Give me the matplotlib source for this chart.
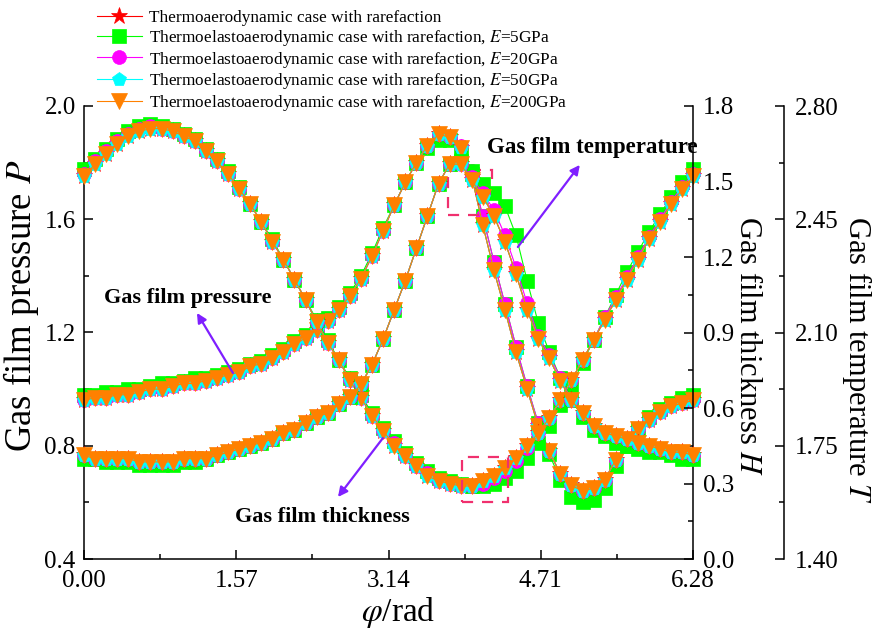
import numpy as np
import matplotlib.pyplot as plt
from matplotlib.patches import Rectangle
from matplotlib.ticker import MultipleLocator, FormatStrFormatter
from matplotlib.lines import Line2D

plt.rcParams['font.family'] = ['Liberation Serif', 'DejaVu Serif']
plt.rcParams['mathtext.fontset'] = 'stix'

# circumferential angle, 56 nodes over one revolution
phi = np.linspace(0, 2 * np.pi, 56)

# gas film pressure P
p_stiff = [0.96, 0.97, 0.97, 0.98, 0.98, 0.99, 1.00, 1.00, 1.01, 1.02,
           1.02, 1.03, 1.04, 1.05, 1.06, 1.08, 1.09, 1.11, 1.13, 1.16,
           1.18, 1.21, 1.24, 1.28, 1.33, 1.39, 1.47, 1.56, 1.65, 1.73,
           1.80, 1.86, 1.90, 1.89, 1.85, 1.75, 1.58, 1.42, 1.28, 1.13,
           1.00, 0.87, 0.78, 0.70, 0.66, 0.64, 0.65, 0.68, 0.75, 0.81,
           0.86, 0.89, 0.92, 0.94, 0.95, 0.96]
p_e20 = [0.96, 0.97, 0.97, 0.98, 0.98, 0.99, 1.00, 1.00, 1.01, 1.02,
         1.02, 1.03, 1.04, 1.05, 1.06, 1.08, 1.09, 1.11, 1.13, 1.16,
         1.18, 1.21, 1.24, 1.28, 1.33, 1.39, 1.47, 1.56, 1.65, 1.73,
         1.80, 1.86, 1.90, 1.89, 1.86, 1.77, 1.61, 1.45, 1.30, 1.15,
         1.01, 0.88, 0.78, 0.70, 0.66, 0.64, 0.65, 0.68, 0.75, 0.81,
         0.86, 0.89, 0.92, 0.94, 0.95, 0.96]
p_e5 = [0.98, 0.98, 0.99, 0.99, 1.00, 1.00, 1.01, 1.02, 1.02, 1.03,
        1.04, 1.04, 1.05, 1.06, 1.07, 1.09, 1.10, 1.12, 1.14, 1.17,
        1.19, 1.22, 1.25, 1.29, 1.34, 1.40, 1.48, 1.57, 1.65, 1.73,
        1.80, 1.85, 1.88, 1.88, 1.84, 1.76, 1.61, 1.45, 1.30, 1.15,
        1.01, 0.88, 0.77, 0.68, 0.62, 0.60, 0.61, 0.65, 0.73, 0.80,
        0.86, 0.90, 0.93, 0.95, 0.97, 0.98]

# gas film thickness H
h_stiff = [1.52, 1.57, 1.61, 1.65, 1.68, 1.70, 1.71, 1.71, 1.70, 1.68,
           1.66, 1.62, 1.58, 1.53, 1.47, 1.41, 1.34, 1.26, 1.19, 1.11,
           1.03, 0.94, 0.86, 0.79, 0.71, 0.64, 0.57, 0.51, 0.45, 0.41,
           0.37, 0.33, 0.31, 0.30, 0.29, 0.29, 0.31, 0.33, 0.36, 0.40,
           0.45, 0.50, 0.56, 0.63, 0.71, 0.79, 0.87, 0.95, 1.03, 1.11,
           1.19, 1.27, 1.34, 1.41, 1.47, 1.52]
h_e20 = [1.53, 1.58, 1.62, 1.66, 1.69, 1.71, 1.72, 1.71, 1.70, 1.68,
         1.66, 1.62, 1.58, 1.53, 1.47, 1.41, 1.34, 1.26, 1.19, 1.11,
         1.03, 0.94, 0.86, 0.79, 0.71, 0.64, 0.57, 0.51, 0.46, 0.41,
         0.37, 0.34, 0.31, 0.30, 0.29, 0.29, 0.30, 0.32, 0.35, 0.39,
         0.44, 0.50, 0.56, 0.63, 0.71, 0.79, 0.87, 0.96, 1.04, 1.12,
         1.20, 1.28, 1.35, 1.42, 1.48, 1.53]
h_e5 = [1.55, 1.59, 1.63, 1.67, 1.70, 1.72, 1.73, 1.72, 1.71, 1.69,
        1.67, 1.63, 1.59, 1.54, 1.48, 1.41, 1.34, 1.27, 1.19, 1.11,
        1.03, 0.95, 0.87, 0.79, 0.72, 0.65, 0.58, 0.52, 0.47, 0.42,
        0.38, 0.35, 0.32, 0.31, 0.30, 0.29, 0.29, 0.30, 0.32, 0.35,
        0.40, 0.46, 0.53, 0.61, 0.69, 0.78, 0.87, 0.96, 1.05, 1.14,
        1.22, 1.30, 1.37, 1.44, 1.50, 1.55]

# gas film temperature T
t_stiff = [1.72, 1.71, 1.71, 1.71, 1.71, 1.70, 1.70, 1.70, 1.70, 1.71,
           1.71, 1.71, 1.72, 1.73, 1.74, 1.75, 1.76, 1.77, 1.79, 1.80,
           1.82, 1.84, 1.85, 1.88, 1.90, 1.94, 2.00, 2.08, 2.17, 2.26,
           2.36, 2.46, 2.56, 2.62, 2.62, 2.57, 2.52, 2.46, 2.38, 2.28,
           2.17, 2.08, 2.02, 1.95, 1.89, 1.85, 1.81, 1.79, 1.78, 1.77,
           1.76, 1.75, 1.74, 1.73, 1.73, 1.72]
t_e20 = [1.72, 1.71, 1.71, 1.71, 1.71, 1.70, 1.70, 1.70, 1.70, 1.71,
         1.71, 1.71, 1.72, 1.73, 1.74, 1.75, 1.76, 1.77, 1.79, 1.80,
         1.82, 1.84, 1.85, 1.88, 1.90, 1.94, 2.00, 2.08, 2.17, 2.26,
         2.36, 2.46, 2.56, 2.62, 2.62, 2.58, 2.53, 2.48, 2.40, 2.30,
         2.19, 2.09, 2.03, 1.96, 1.89, 1.85, 1.81, 1.79, 1.78, 1.77,
         1.76, 1.75, 1.74, 1.73, 1.73, 1.72]
t_e5 = [1.71, 1.71, 1.70, 1.70, 1.70, 1.69, 1.69, 1.69, 1.69, 1.70,
        1.70, 1.71, 1.72, 1.73, 1.74, 1.75, 1.76, 1.77, 1.79, 1.80,
        1.82, 1.84, 1.85, 1.88, 1.90, 1.94, 2.00, 2.08, 2.17, 2.26,
        2.36, 2.46, 2.56, 2.62, 2.63, 2.60, 2.56, 2.53, 2.49, 2.40,
        2.26, 2.13, 2.04, 1.96, 1.89, 1.84, 1.80, 1.78, 1.76, 1.75,
        1.74, 1.73, 1.73, 1.72, 1.71, 1.71]

case_labels = ['Thermoaerodynamic case with rarefaction',
               'Thermoelastoaerodynamic case with rarefaction, $E$=5GPa',
               'Thermoelastoaerodynamic case with rarefaction, $E$=20GPa',
               'Thermoelastoaerodynamic case with rarefaction, $E$=50GPa',
               'Thermoelastoaerodynamic case with rarefaction, $E$=200GPa']
case_p = [p_stiff, p_e5, p_e20, p_stiff, p_stiff]
case_h = [h_stiff, h_e5, h_e20, h_stiff, h_stiff]
case_t = [t_stiff, t_e5, t_e20, t_stiff, t_stiff]

colors = ['#FF0000', '#00FF00', '#FF00FF', '#00FFFF', '#FF8000']
markers = ['*', 's', 'o', 'p', 'v']
msizes = [12.5, 9.5, 10, 10.5, 11]

fig = plt.figure(figsize=(8.74, 6.31), dpi=100)
ax = fig.add_axes([84 / 874, 1 - 559 / 631, 609 / 874, 453 / 631])
ax_h = ax.twinx()
ax_t = ax.twinx()

handles = []
for k in range(5):
    style = dict(color=colors[k], marker=markers[k], ms=msizes[k], lw=0.8,
                 mec=colors[k], mew=0.5, clip_on=False)
    ax.plot(phi, case_p[k], **style)
    ax_h.plot(phi, case_h[k], **style)
    ax_t.plot(phi, case_t[k], **style)
    handles.append(Line2D([], [], **style))

# axes ranges and ticks
ax.set_xlim(0, 6.28)
ax.set_ylim(0.4, 2.0)
ax_h.set_ylim(0, 1.8)
ax_t.set_ylim(1.4, 2.8)

ax.set_xticks([0, 1.57, 3.14, 4.71, 6.28])
ax.set_xticklabels(['0.00', '1.57', '3.14', '4.71', '6.28'])
ax.set_xticks([0.785, 2.355, 3.925, 5.495], minor=True)
ax.yaxis.set_major_locator(MultipleLocator(0.4))
ax.yaxis.set_minor_locator(MultipleLocator(0.2))
ax.yaxis.set_major_formatter(FormatStrFormatter('%.1f'))
ax_h.yaxis.set_major_locator(MultipleLocator(0.3))
ax_h.yaxis.set_minor_locator(MultipleLocator(0.15))
ax_h.yaxis.set_major_formatter(FormatStrFormatter('%.1f'))
ax_t.yaxis.set_major_locator(MultipleLocator(0.35))
ax_t.yaxis.set_minor_locator(MultipleLocator(0.175))
ax_t.yaxis.set_major_formatter(FormatStrFormatter('%.2f'))

for a in (ax, ax_h, ax_t):
    a.tick_params(which='major', direction='in', length=6.5, width=1.1, labelsize=18)
    a.tick_params(which='minor', direction='in', length=3.5, width=1.1)
ax.tick_params(axis='x', which='major', pad=8)
ax.tick_params(axis='y', which='major', pad=6)
ax_h.tick_params(axis='y', which='major', pad=7)
ax_t.tick_params(axis='y', which='major', pad=8)

ax.spines['top'].set_visible(False)
ax.spines['right'].set_visible(False)
for a in (ax_h, ax_t):
    for s in ('top', 'left', 'bottom'):
        a.spines[s].set_visible(False)
ax_t.spines['right'].set_position(('axes', 1.149))
for a in (ax, ax_h, ax_t):
    for s in a.spines.values():
        s.set_linewidth(1.1)

# axis titles
ax.set_xlabel(r'$\varphi$/rad', fontsize=24, ha='center', va='center')
ax.xaxis.set_label_coords(0.516, -0.118)
ax.set_ylabel('Gas film pressure $P$', fontsize=26.5, ha='center', va='center')
ax.yaxis.set_label_coords(-0.103, 0.56)
ax_h.set_ylabel('Gas film thickness $H$', fontsize=22, rotation=270,
                ha='center', va='center')
ax_h.yaxis.set_label_coords(1.090, 0.47)
ax_t.set_ylabel('Gas film temperature $T$', fontsize=22, rotation=270,
                ha='center', va='center')
ax_t.yaxis.set_label_coords(1.269, 0.44)

# callouts and arrows
arrow_kw = dict(arrowstyle='-|>', color='#7F1FFF', lw=1.6, mutation_scale=14,
                shrinkA=0, shrinkB=0)
ax_t.annotate('', xy=(1.165, 1.269), xycoords=ax.transData,
              xytext=(1.536, 1.057), textcoords=ax.transData, arrowprops=arrow_kw)
ax_t.annotate('', xy=(5.113, 1.792), xycoords=ax.transData,
              xytext=(4.474, 1.502), textcoords=ax.transData, arrowprops=arrow_kw)
ax_t.annotate('', xy=(2.619, 0.619), xycoords=ax.transData,
              xytext=(3.082, 0.827), textcoords=ax.transData, arrowprops=arrow_kw)
ax_t.text(1.072, 1.322, 'Gas film pressure', transform=ax.transData,
          fontsize=16, fontweight='bold', ha='center', va='center')
ax_t.text(5.245, 1.852, 'Gas film temperature', transform=ax.transData,
          fontsize=16.5, fontweight='bold', ha='center', va='center')
ax_t.text(2.454, 0.548, 'Gas film thickness', transform=ax.transData,
          fontsize=16, fontweight='bold', ha='center', va='center')

# dashed boxes around the regions where the E=5GPa case departs
for x0, y0, w, hgt in [(3.75, 1.615, 0.46, 0.159), (3.90, 0.601, 0.47, 0.159)]:
    ax_t.add_patch(Rectangle((x0, y0), w, hgt, transform=ax.transData, fill=False,
                             ec='#F0306E', lw=1.6, ls=(0, (5, 4)), clip_on=False))

fig.legend(handles, case_labels, loc='upper left',
           bbox_to_anchor=(97 / 874, 1 - 10 / 631), frameon=False, fontsize=12.4,
           labelspacing=0.1, handlelength=2.6, handletextpad=0.4,
           borderaxespad=0, borderpad=0)

fig.savefig('out.png', dpi=100)
